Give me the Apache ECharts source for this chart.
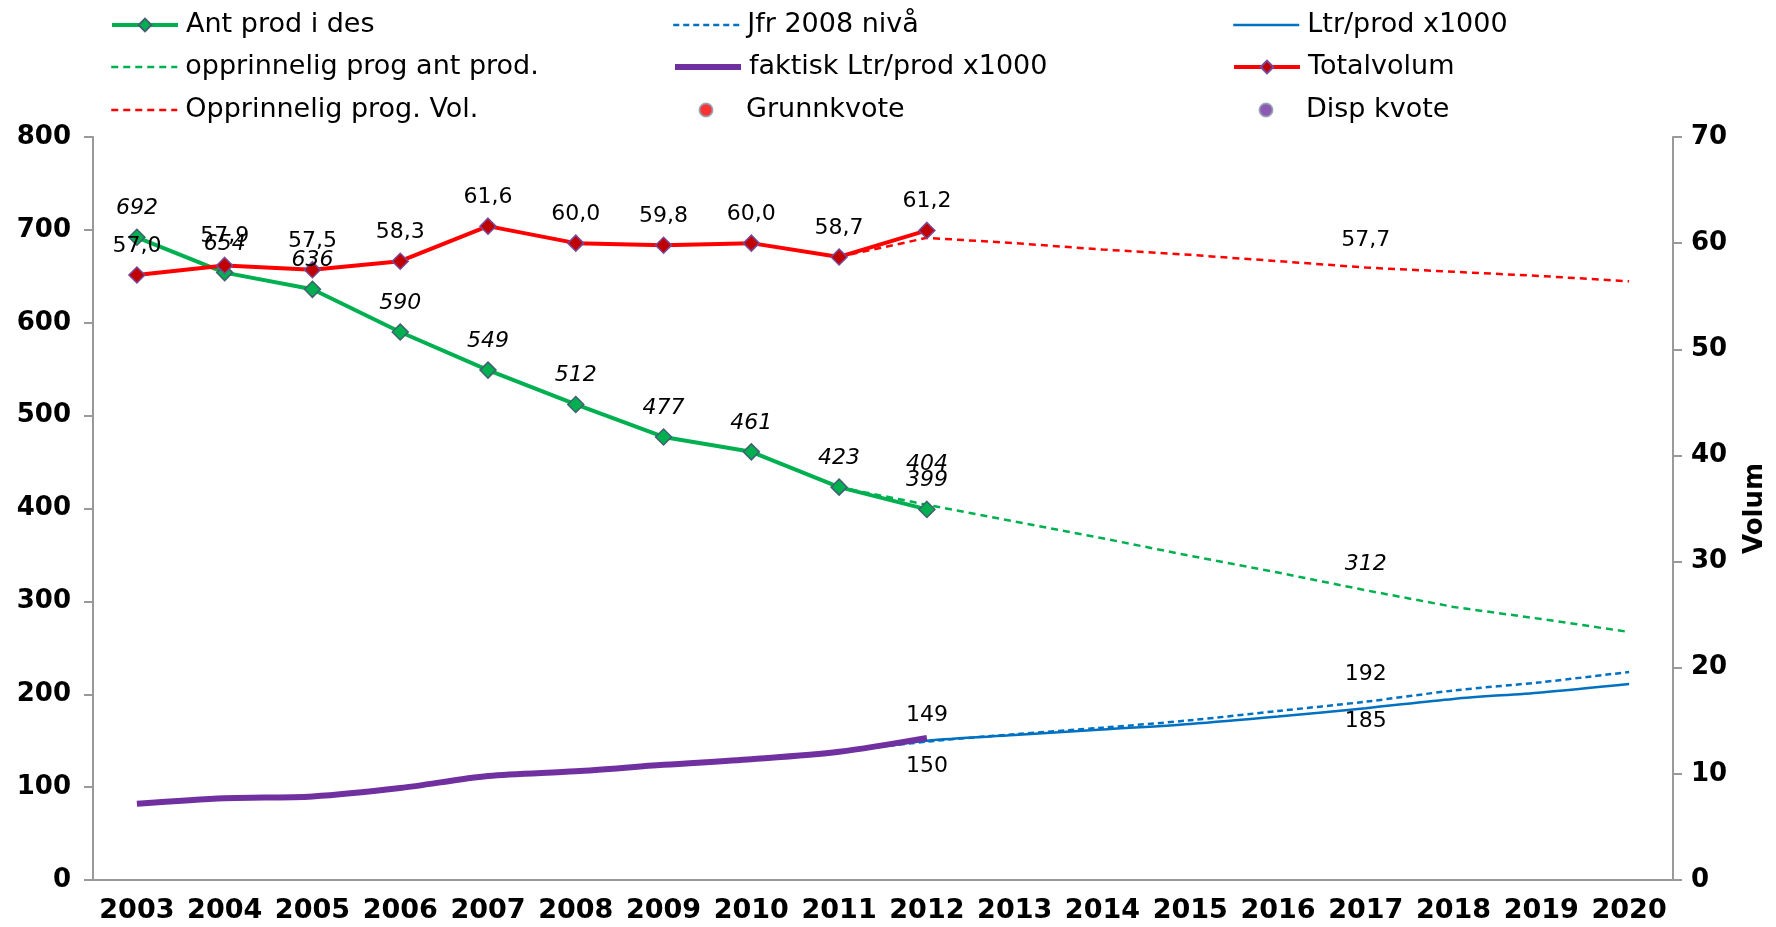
<!DOCTYPE html>
<html>
<head>
<meta charset="utf-8">
<script src="https://cdn.jsdelivr.net/npm/echarts@6/dist/echarts.min.js"></script>
<style>
  html, body { margin: 0; padding: 0; background: #fff; }
  #chart { width: 1776px; height: 927px; }
</style>
</head>
<body>
<div id="chart"></div>
<script>
// data
const years = ['2003', '2004', '2005', '2006', '2007', '2008', '2009', '2010', '2011',
  '2012', '2013', '2014', '2015', '2016', '2017', '2018', '2019', '2020']
const antProd = [692, 654, 636, 590, 549, 512, 477, 461, 423, 399, null, null, null, null, null, null, null, null]
const progAntProd = [null, null, null, null, null, null, null, null, 423, 404, 386, 368, 349, 331, 312, 294, 281, 267]
const jfr2008 = [null, null, null, null, null, null, null, null, 138, 149, 157, 164, 172, 182, 192, 204, 213, 224]
const ltrProd = [null, null, null, null, null, null, null, null, 137, 150, 156, 162, 168, 176, 185, 195, 202, 211]
const faktiskLtr = [82, 88, 90, 99, 112, 117, 124, 130, 138, 153, null, null, null, null, null, null, null, null]
const totalvolum = [57.0, 57.9, 57.5, 58.3, 61.6, 60.0, 59.8, 60.0, 58.7, 61.2, null, null, null, null, null, null, null, null]
const progVol = [null, null, null, null, null, null, null, null, 58.7, 60.5, 60.0, 59.4, 58.9, 58.3, 57.7, 57.3, 56.9, 56.4]
const grunnkvote = []
const dispKvote = []
const leftTicks = { min: 0, max: 800, interval: 100 }
const rightTicks = { min: 0, max: 70, interval: 10 }

const FONT = 'DejaVu Sans'
const comma = v => v.toFixed(1).replace('.', ',')

// turn a value array into data items, with labels only on the given indices
function withLabels (values, shown, position, fmt, extra) {
  return values.map((v, i) => {
    if (v === null) return null
    if (!(i in shown)) return v
    return {
      value: v,
      label: Object.assign({
        show: true,
        position: position,
        distance: shown[i],
        formatter: fmt ? (p => fmt(p.value)) : '{c}'
      }, extra || {})
    }
  })
}
const every = (arr, d) => {
  const o = {}
  arr.forEach((v, i) => { if (v !== null) o[i] = d })
  return o
}

const chart = echarts.init(document.getElementById('chart'))

// name, left, row centre, icon height, line width, hide dot
const legendItems = [
  ['Ant prod i des', 110, 25, 16, 4, false],
  ['opprinnelig prog ant prod.', 110, 67, 16, 2.5, true],
  ['Opprinnelig prog. Vol.', 110, 110, 16, 2.5, true],
  ['Jfr 2008 nivå', 672, 25, 16, 2.5, true],
  ['faktisk Ltr/prod x1000', 672, 67, 16, 6, true],
  ['Grunnkvote', 672, 110, 13, 0, false],
  ['Ltr/prod x1000', 1232, 25, 16, 2.5, true],
  ['Totalvolum', 1232, 67, 16, 4, false],
  ['Disp kvote', 1232, 110, 13, 0, false]
]

const labelText = { fontFamily: FONT, fontSize: 22, color: '#000' }

chart.setOption({
  animation: false,
  textStyle: { fontFamily: FONT },
  legend: legendItems.map(it => {
    const dot = it[4] === 0
    const shift = dot ? (66 - it[3]) / 2 : 0
    const item = { name: it[0] }
    if (!dot) item.lineStyle = { width: it[4] }
    if (it[5]) item.itemStyle = { color: 'rgba(0,0,0,0)', borderWidth: 0 }
    return {
      data: [item],
      left: it[1] + shift,
      top: it[2] - 15,
      padding: 0,
      itemWidth: 66,
      itemHeight: it[3],
      selectedMode: false,
      textStyle: { fontFamily: FONT, fontSize: 27, color: '#000', lineHeight: 30, padding: [0, 0, 0, dot ? 2 : 3] }
    }
  }),
  grid: { left: 93, right: 103, top: 137, bottom: 47, outerBoundsMode: 'none' },
  xAxis: {
    type: 'category',
    data: years,
    boundaryGap: true,
    axisLine: { lineStyle: { color: '#999', width: 2 } },
    axisTick: { length: 9, lineStyle: { color: '#999', width: 2 } },
    axisLabel: { interval: 0, margin: 17, fontFamily: FONT, fontSize: 27, fontWeight: 'bold', color: '#000' }
  },
  yAxis: [
    {
      type: 'value',
      min: leftTicks.min,
      max: leftTicks.max,
      interval: leftTicks.interval,
      splitLine: { show: false },
      axisLine: { show: true, lineStyle: { color: '#999', width: 2 } },
      axisTick: { show: true, length: 9, lineStyle: { color: '#999', width: 2 } },
      axisLabel: { margin: 22, fontFamily: FONT, fontSize: 26, fontWeight: 'bold', color: '#000' }
    },
    {
      type: 'value',
      min: rightTicks.min,
      max: rightTicks.max,
      interval: rightTicks.interval,
      name: 'Volum',
      nameLocation: 'middle',
      nameRotate: 90,
      nameGap: 69,
      nameTextStyle: { fontFamily: FONT, fontSize: 26, fontWeight: 'bold', color: '#000' },
      splitLine: { show: false },
      axisLine: { show: true, lineStyle: { color: '#999', width: 2 } },
      axisTick: { show: true, length: 9, lineStyle: { color: '#999', width: 2 } },
      axisLabel: { margin: 18, fontFamily: FONT, fontSize: 26, fontWeight: 'bold', color: '#000' }
    }
  ],
  series: [
    {
      name: 'opprinnelig prog ant prod.',
      type: 'line',
      yAxisIndex: 0,
      symbol: 'circle',
      symbolSize: 0.1,
      lineStyle: { color: '#00b050', width: 2.5, type: [7, 5] },
      itemStyle: { color: '#00b050' },
      data: withLabels(progAntProd, { 9: 29, 14: 15 }, 'top', null, Object.assign({ fontStyle: 'italic' }, labelText)),
      z: 2
    },
    {
      name: 'Opprinnelig prog. Vol.',
      type: 'line',
      yAxisIndex: 1,
      symbol: 'circle',
      symbolSize: 0.1,
      lineStyle: { color: '#ff0000', width: 2.5, type: [7, 5] },
      itemStyle: { color: '#ff0000' },
      data: withLabels(progVol, { 14: 16 }, 'top', comma, labelText),
      z: 2
    },
    {
      name: 'Jfr 2008 nivå',
      type: 'line',
      yAxisIndex: 0,
      symbol: 'circle',
      symbolSize: 0.1,
      smooth: 0.3,
      lineStyle: { color: '#0070c0', width: 2.5, type: [6, 4] },
      itemStyle: { color: '#0070c0' },
      data: withLabels(jfr2008, { 9: 15, 14: 16 }, 'top', null, labelText),
      z: 2
    },
    {
      name: 'Ltr/prod x1000',
      type: 'line',
      yAxisIndex: 0,
      symbol: 'circle',
      symbolSize: 0.1,
      smooth: 0.3,
      lineStyle: { color: '#0070c0', width: 2.5 },
      itemStyle: { color: '#0070c0' },
      data: withLabels(ltrProd, { 9: 15, 14: 2 }, 'bottom', null, labelText),
      z: 2
    },
    {
      name: 'faktisk Ltr/prod x1000',
      type: 'line',
      yAxisIndex: 0,
      symbol: 'none',
      smooth: 0.3,
      lineStyle: { color: '#7030a0', width: 6 },
      itemStyle: { color: '#7030a0' },
      data: faktiskLtr,
      z: 3
    },
    {
      name: 'Ant prod i des',
      type: 'line',
      yAxisIndex: 0,
      symbol: 'diamond',
      symbolSize: 16,
      lineStyle: { color: '#00b050', width: 4 },
      itemStyle: { color: '#00b050', borderColor: '#3f6170', borderWidth: 1.5 },
      data: withLabels(antProd, every(antProd, 9), 'top', null, Object.assign({ fontStyle: 'italic' }, labelText)),
      z: 4
    },
    {
      name: 'Totalvolum',
      type: 'line',
      yAxisIndex: 1,
      symbol: 'diamond',
      symbolSize: 16,
      lineStyle: { color: '#ff0000', width: 4 },
      itemStyle: { color: '#c00000', borderColor: '#7a4a9a', borderWidth: 1.5 },
      data: withLabels(totalvolum, every(totalvolum, 9), 'top', comma, labelText),
      z: 4
    },
    {
      name: 'Grunnkvote',
      type: 'scatter',
      yAxisIndex: 1,
      itemStyle: { color: '#ff0000', borderColor: '#8a9aaa', borderWidth: 1 },
      data: grunnkvote
    },
    {
      name: 'Disp kvote',
      type: 'scatter',
      yAxisIndex: 1,
      itemStyle: { color: '#7030a0', borderColor: '#8a9aaa', borderWidth: 1 },
      data: dispKvote
    }
  ]
})
</script>
</body>
</html>
